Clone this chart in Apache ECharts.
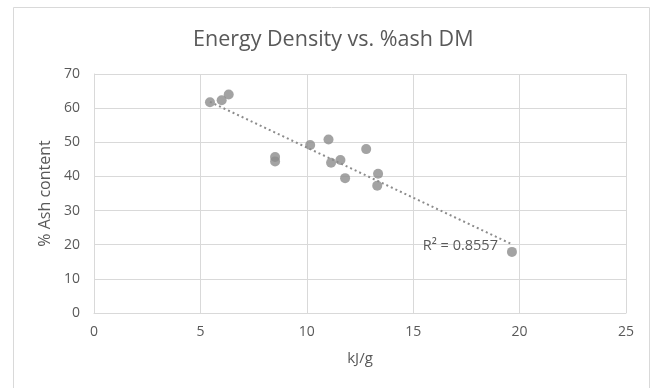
<!DOCTYPE html>
<html>
<head>
<meta charset="utf-8">
<script src="https://cdn.jsdelivr.net/npm/echarts@6/dist/echarts.min.js"></script>
<style>
html,body{margin:0;padding:0;background:#fff;}
#main{width:654px;height:388px;}
</style>
</head>
<body>
<div id="main"></div>
<script>
// energy density (kJ/g) against ash content (% DM)
var kjPerG = [5.45, 6.00, 6.33, 8.51, 8.51, 10.16, 11.02, 11.14, 11.58, 11.80, 12.79, 13.35, 13.31, 19.64];
var ashPct = [61.7, 62.3, 64.0, 45.7, 44.4, 49.2, 50.8, 44.0, 44.8, 39.5, 48.0, 40.8, 37.3, 17.9];
var r2Text = 'R\u00b2 = 0.8557';

var font = '"Open Sans", sans-serif';

function fitLine(xs, ys){
  var n = xs.length, sx = 0, sy = 0, sxy = 0, sxx = 0;
  for (var i = 0; i < n; i++) {
    sx += xs[i]; sy += ys[i]; sxy += xs[i] * ys[i]; sxx += xs[i] * xs[i];
  }
  var b = (n * sxy - sx * sy) / (n * sxx - sx * sx);
  var a = (sy - b * sx) / n;
  var x0 = Math.min.apply(null, xs), x1 = Math.max.apply(null, xs);
  return [[x0, a + b * x0], [x1, a + b * x1]];
}

var points = kjPerG.map(function(x, i){ return [x, ashPct[i]]; });
var trend = fitLine(kjPerG, ashPct);

var myChart = echarts.init(document.getElementById('main'));
var option = {
  backgroundColor: '#fff',
  animation: false,
  graphic: [{
    type: 'rect',
    shape: {x: 13.5, y: 7.5, width: 636, height: 390},
    style: {fill: 'none', stroke: '#d9d9d9', lineWidth: 1},
    silent: true
  }],
  title: {
    text: 'Energy Density vs. %ash DM',
    left: 193,
    top: 29,
    padding: 0,
    textStyle: {fontFamily: font, fontSize: 21.5, fontWeight: 'normal', color: '#595959'}
  },
  grid: {left: 94, right: 28, top: 74, bottom: 75},
  xAxis: {
    type: 'value',
    min: 0, max: 25, interval: 5,
    name: 'kJ/g',
    nameLocation: 'middle',
    nameGap: 38,
    nameTextStyle: {fontFamily: font, fontSize: 15, color: '#595959'},
    axisLine: {show: true, lineStyle: {color: '#d9d9d9'}},
    axisTick: {show: false},
    axisLabel: {fontFamily: font, fontSize: 14, color: '#595959', margin: 12},
    splitLine: {show: true, lineStyle: {color: '#d9d9d9'}}
  },
  yAxis: {
    type: 'value',
    min: 0, max: 70, interval: 10,
    name: '% Ash content',
    nameLocation: 'middle',
    nameGap: 40,
    nameTextStyle: {fontFamily: font, fontSize: 16, color: '#595959'},
    axisLine: {show: true, lineStyle: {color: '#d9d9d9'}},
    axisTick: {show: false},
    axisLabel: {fontFamily: font, fontSize: 14, color: '#595959', margin: 14},
    splitLine: {show: true, lineStyle: {color: '#d9d9d9'}}
  },
  series: [
    {
      type: 'line',
      data: trend,
      symbol: 'none',
      lineStyle: {color: '#8c8c8c', width: 2, type: [2, 3]},
      markPoint: {
        symbol: 'circle',
        symbolSize: 0,
        data: [{coord: trend[1]}],
        label: {
          show: true, position: 'left', distance: 14, offset: [0, 2],
          formatter: r2Text,
          fontFamily: font, fontSize: 14.5, color: '#595959'
        }
      },
      z: 1
    },
    {
      type: 'scatter',
      data: points,
      symbolSize: 10,
      itemStyle: {color: '#8c8c8c'},
      z: 3
    }
  ]
};
myChart.setOption(option);
</script>
</body>
</html>
